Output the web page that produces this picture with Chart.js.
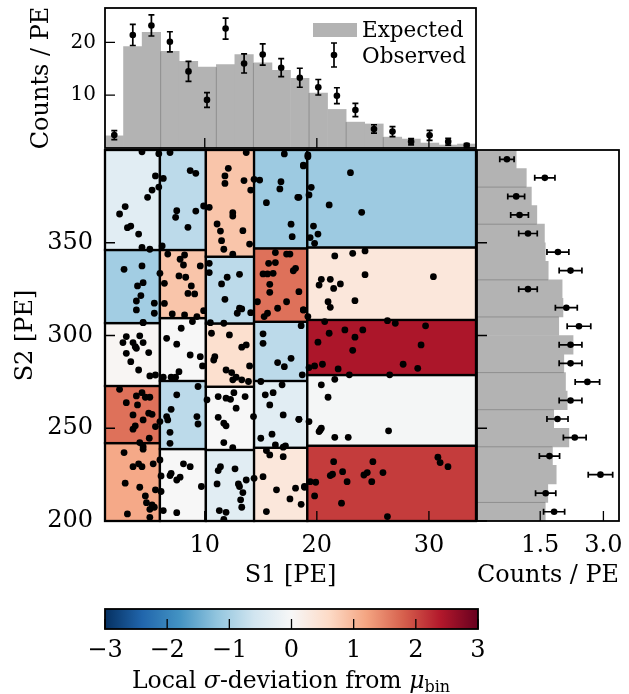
<!DOCTYPE html>
<html>
<head>
<meta charset="utf-8">
<script src="https://cdn.jsdelivr.net/npm/chart.js@4.4.1/dist/chart.umd.min.js"></script>
<style>
  body { margin: 0; background: #fff; }
  #wrap { position: relative; width: 629px; height: 694px; overflow: hidden; }
  canvas { position: absolute; }
  #cbTitle { position: absolute; left: 0; width: 582px; top: 666px; text-align: center;
             font: 23.5px "DejaVu Serif", serif; color: #000; white-space: nowrap; }
  #cbTitle sub { font-size: 16px; vertical-align: -4px; }
</style>
</head>
<body>
<div id="wrap">
  <canvas id="topHist" width="480" height="152" style="left:0;top:0"></canvas>
  <canvas id="mainPlot" width="480" height="460" style="left:0;top:140px"></canvas>
  <canvas id="rightHist" width="159" height="460" style="left:470px;top:140px"></canvas>
  <canvas id="colorBar" width="500" height="75" style="left:0;top:595px"></canvas>
  <div id="cbTitle">Local <i>σ</i>-deviation from <i>μ</i><sub>bin</sub></div>
</div>
<script>
// top histogram, S1 bins
const s1Centers = [1.93, 3.58, 5.24, 6.89, 8.55, 10.20, 11.86, 13.51, 15.17, 16.82,
                   18.48, 20.13, 21.79, 23.44, 25.10, 26.75, 28.41, 30.06, 31.72, 33.37]
const s1Expected = [2.3, 19.2, 21.9, 18.3, 16.4, 15.3, 15.8, 17.7, 16.1, 14.7,
                    13.2, 10.4, 7.3, 4.9, 4.55, 2.06, 1.69, 0.94, 0.56, 0.75]
const s1Observed = [2.45, 21.4, 23.2, 20.1, 14.5, 9.1, 22.6, 16.0, 17.7, 15.2,
                    13.3, 11.5, 9.9, 7.2, 3.6, 3.1, 1.2, 2.4, 1.2, 0.45]
const s1Errors = [0.85, 2.0, 2.0, 1.9, 1.9, 1.4, 2.0, 1.8, 2.0, 1.7,
                  1.8, 1.47, 1.5, 1.25, 0.8, 0.95, 0.6, 0.94, 0.65, 0.4]
// bins whose left edge shows a thin seam
const s1Seams = [3, 6, 8, 11, 13, 15]

// right histogram, S2 bins (top to bottom)
const s2Centers = [395, 385, 375, 365, 355, 345, 335, 325, 315, 305,
                   295, 285, 275, 265, 255, 245, 235, 225, 215, 205]
const s2Expected = [0.93, 1.17, 1.29, 1.42, 1.60, 1.62, 1.69, 2.02, 2.04, 1.94,
                    2.28, 2.06, 2.10, 2.14, 1.82, 2.18, 1.79, 1.88, 1.68, 1.62]
const s2Observed = [0.71, 1.61, 0.93, 1.01, 1.21, 1.92, 2.22, 1.21, 2.12, 2.42,
                    2.22, 2.22, 2.62, 2.22, 1.91, 2.32, 1.72, 2.93, 1.63, 1.83]
const s2Errors = [0.17, 0.24, 0.20, 0.21, 0.22, 0.26, 0.27, 0.22, 0.26, 0.28,
                  0.27, 0.27, 0.29, 0.27, 0.25, 0.27, 0.24, 0.29, 0.24, 0.25]
const s2Seams = [2, 4, 7, 9, 12, 14, 16, 19]

// tick labels
const s1Ticks = [10, 20, 30]
const s2Ticks = [200, 250, 300, 350]
const topCountTicks = [10, 20]
const rightCountTicks = [1.5, 3.0]
const sigmaTicks = [-3, -2, -1, 0, 1, 2, 3]

// local bins: column edges in S1, row edges in S2 (bottom to top), sigma per cell
const colEdges = [1.1, 6.0, 10.1, 14.4, 19.15, 34.2]
const rowEdges = [
  [200, 242.0, 272.8, 306.7, 346.1, 400],
  [200, 238.8, 275.5, 309.4, 346.1, 400],
  [200, 238.3, 272.4, 306.5, 342.5, 400],
  [200, 239.5, 275.5, 307.4, 347.0, 400],
  [200, 240.6, 278.7, 308.4, 347.5, 400]
]
const cellSigma = [
  [1.15, 1.65, 0.05, -1.05, -0.35],
  [0.0, -0.8, 0.0, 0.85, -0.8],
  [-0.35, 0.0, 0.5, -0.8, 0.85],
  [0.35, -0.35, -0.8, 1.65, -1.1],
  [2.1, -0.05, 2.45, 0.35, -1.1]
]

// observed events
const eventS1 = [
  4.4, 5.9, 5.6, 5.9, 5.3, 4.9, 2.9, 2.4, 3.1, 3.4, 4.1, 4.4, 5.1, 6.2,
  6.9, 6.3, 8.7, 9.2, 7.5, 7.4, 9.2, 8.5, 9.9,
  13.7, 12.1, 11.8, 11.8, 13.5, 14.4, 14.9, 14.1, 10.4, 12.5, 12.5, 11.1, 11.4, 13.4, 11.5, 14.0, 11.7, 12.5,
  17.1, 18.8, 16.8, 16.7, 18.3, 15.5, 17.7, 17.8, 19.2,
  2.8, 4.4, 6.0, 4.5, 4.0, 4.3, 3.9, 5.5, 3.9, 5.5, 4.5,
  6.7, 8.2, 7.8, 8.1, 9.6, 7.7, 8.3, 6.4, 8.8, 8.5, 9.1, 6.4, 9.9, 7.1, 8.2, 9.3,
  10.4, 12.0, 13.1, 11.5, 11.8, 13.1, 13.3, 14.1, 12.9, 11.7, 10.5, 10.4,
  16.3, 17.3, 17.6, 15.7, 16.3, 18.1, 17.9, 15.2, 15.6, 16.1, 15.8, 15.8, 14.7, 17.3, 18.4, 15.6, 15.3, 18.8, 16.5,
  3.0, 2.7, 3.6, 3.8, 4.2, 4.5, 3.9, 3.0, 3.4, 5.0, 4.1, 5.1, 5.6, 4.5,
  2.4, 4.4, 3.9, 4.7, 5.1, 3.0, 4.0, 3.6, 5.0, 5.3, 4.5, 3.8, 3.6, 5.6, 5.05, 4.2, 6.0,
  4.5, 4.5, 2.8, 3.6, 4.1, 4.4, 5.4, 2.9, 4.2, 4.7, 5.6, 4.8, 5.3, 5.5, 5.1, 3.1, 5.1, 6.0, 6.1,
  7.9, 8.9, 6.6, 7.5, 8.7, 9.6, 9.8, 7.7, 6.3, 7.0, 7.4,
  9.4, 7.5, 7.0, 6.6, 6.7, 9.3, 9.4, 6.9, 6.9,
  8.1, 8.7, 7.0, 6.9, 7.8, 7.5, 9.7, 6.1, 7.5, 6.3,
  10.6, 12.2, 13.3, 13.7, 10.9, 10.8, 14.0, 11.9, 12.4, 12.5, 13.3, 13.9, 12.8,
  10.2, 11.2, 11.9, 12.3, 12.6, 13.6, 12.8, 11.2, 11.7, 11.9, 14.35, 11.7, 12.5,
  11.4, 11.2, 12.7, 11.1, 13.0, 13.1, 13.7, 13.4, 13.2, 13.3, 11.3, 11.9, 11.7,
  18.6, 15.2, 15.2, 16.5, 17.1, 17.7, 18.7, 15.0,
  16.9, 15.4, 16.1, 15.8, 17.0, 18.4, 15.0, 16.0, 16.3, 17.0, 17.2,
  15.5, 15.8, 17.0, 15.2, 16.4, 17.6, 18.6, 18.9, 18.1, 15.5, 14.4,
  19.2, 18.8, 23.0, 19.5, 19.3, 21.1, 24.0, 19.7, 20.1, 19.4, 19.8, 18.4,
  21.6, 23.2, 24.3, 24.3, 30.4, 20.4, 20.2, 21.2, 22.1, 21.5, 21.0, 21.2, 23.4, 18.8, 19.2,
  20.7, 26.3, 27.0, 29.7, 21.1, 22.5, 24.1, 23.4, 20.1, 23.2, 29.3, 20.5, 19.8, 19.3, 21.9, 22.9, 26.5, 27.7, 29.0,
  20.4, 21.6, 21.0, 19.3, 20.2, 20.3, 20.4, 21.6, 22.8, 26.4, 18.4,
  21.5, 25.0, 30.8, 31.0, 31.7, 22.3, 21.2, 21.4, 24.2, 24.5, 25.9, 22.7, 24.9, 19.4, 19.9, 19.8, 22.2, 26.3, 18.9
]
const eventS2 = [
  399, 398, 386, 380, 378.4, 374.5, 369.5, 365.5, 358.1, 359, 354.7, 347.5, 346.5, 348.3,
  398.6, 384.7, 388.9, 387.4, 367.3, 363.7, 367.1, 358.3, 369.8,
  398.6, 390.1, 386, 382, 383.5, 384.2, 383.8, 378.4, 369.1, 366.2, 364.4, 360.1, 356.3, 356.5, 351.1, 349.3, 346.5, 343.8,
  397.9, 391.9, 382.9, 379, 374.5, 371.6, 360, 353.3, 396.4,
  335.7, 337.5, 333.5, 328.5, 326.7, 321.5, 318.6, 317.4, 313.8, 312, 306.9,
  343.9, 343.4, 341.1, 338, 337.5, 332.1, 331.4, 328.1, 326.7, 322.7, 322.4, 317.3, 313.4, 311.6, 311.1, 310.2,
  338.9, 331.4, 333, 327.8, 319.5, 314.7, 314.3, 312.3, 312, 306.6, 306.9, 333.9,
  344.7, 343.9, 343.9, 338.9, 339.3, 336.2, 334.9, 333.2, 333.2, 333.5, 327.6, 323.3, 318.2, 318.2, 323.6, 312, 310.2, 313.8, 314.7,
  299.4, 296.2, 296.2, 294, 299.8, 296.2, 293.1, 290.4, 285.9, 290.8, 281.4, 278.2, 278.7, 307,
  271, 269.2, 267.4, 266.7, 266.7, 263.8, 262.6, 257.2, 258.1, 257.5, 254.5, 251.3, 249.5, 250.9, 244.6, 242.3, 253.6,
  240.1, 238.7, 236.9, 229.3, 230.8, 229.3, 230.8, 220.4, 218.2, 213.5, 216.8, 209.9, 208.7, 207.4, 206.3, 203.8, 202, 232.9, 215.9,
  303.9, 307.5, 298.5, 295.3, 289.5, 288.6, 283.6, 280.5, 277.5, 277.5, 277.5,
  272.5, 268, 260.2, 256.3, 254.5, 256.3, 252.3, 247.8, 241.9,
  230.8, 229.3, 225.7, 224.5, 223.6, 222.1, 218.6, 224.3, 204.5, 205.6,
  301.2, 300.3, 293.7, 294.9, 288.6, 286.8, 283.6, 281.4, 280, 276.1, 276.1, 275.2, 277.5,
  265.3, 267.1, 266.2, 265.6, 269.2, 267.1, 260.8, 255.9, 252.7, 251.3, 256.3, 242.3, 239.6,
  229.3, 227.2, 228.1, 220, 220, 218.6, 222.1, 215.3, 211.4, 207.4, 205.6, 204.7, 200.9,
  305.3, 300.9, 295.8, 285.4, 283.2, 287.7, 278.8, 275.2,
  273.4, 268, 269.2, 262.6, 257.2, 254.8, 244.6, 246.8, 241, 239.8, 240.5,
  238, 235.6, 234.7, 223.9, 216.8, 211.9, 209, 218.6, 217.7, 205.1, 223,
  397.3, 391.4, 387.8, 379.9, 375.8, 370.4, 366.4, 359, 354.7, 352.8, 349.7, 374.5,
  342.9, 344.3, 345.6, 332.8, 331.7, 330.3, 327.2, 330.3, 327.8, 325.4, 318.2, 315.2, 318.8, 313.8, 310.2,
  307.5, 308, 306.6, 305.2, 301.2, 303, 303, 299.1, 296.4, 292, 294.9, 284.5, 283.6, 282.7, 282, 278.8, 278.8, 284.5, 282.3,
  273.4, 276.4, 266.7, 253.6, 248.2, 249.1, 250, 245.1, 245.1, 248.6, 254.8,
  232, 232, 234.4, 231.5, 229.3, 226.6, 224.5, 225.2, 224.8, 226.1, 226.1, 221.2, 221.2, 221.2, 220.9, 213.5, 209.6, 202.4, 218.2
]

Chart.defaults.font.family = '"DejaVu Serif", serif'
Chart.defaults.font.size = 24
Chart.defaults.color = '#000'
Chart.defaults.animation = false

// RdBu_r colour map
const rdbuR = ['#053061', '#2166ac', '#4393c3', '#92c5de', '#d1e5f0', '#f7f7f7',
               '#fddbc7', '#f4a582', '#d6604d', '#b2182b', '#67001f']
function hexRgb(h) {
  return [1, 3, 5].map(i => parseInt(h.slice(i, i + 2), 16))
}
function sigmaColor(s) {
  const t = Math.min(Math.max((s + 3) / 6, 0), 1) * 10
  const i = Math.min(Math.floor(t), 9)
  const f = t - i
  const a = hexRgb(rdbuR[i]), b = hexRgb(rdbuR[i + 1])
  const c = a.map((v, k) => Math.round(v + (b[k] - v) * f))
  return `rgb(${c[0]},${c[1]},${c[2]})`
}

const fixedTicks = list => scale => { scale.ticks = list.map(v => ({ value: v })) }
// pin an axis box to a size and drop the label overhang padding
const fitWidth = w => s => { s.width = w; s.paddingTop = 0; s.paddingBottom = 0 }
const fitHeight = h => s => { s.height = h; s.paddingLeft = 0; s.paddingRight = 0 }

// box around the plot area with inward ticks
function framePlugin(xTicks, yTicks) {
  return {
    id: 'frame',
    afterDraw(chart) {
      const { ctx, chartArea: a, scales } = chart
      ctx.save()
      ctx.strokeStyle = '#000'
      ctx.lineWidth = 1.3
      ctx.beginPath()
      xTicks.forEach(v => {
        const px = scales.x.getPixelForValue(v)
        ctx.moveTo(px, a.bottom)
        ctx.lineTo(px, a.bottom - 10)
      })
      yTicks.forEach(v => {
        const py = scales.y.getPixelForValue(v)
        ctx.moveTo(a.left, py)
        ctx.lineTo(a.left + 10, py)
      })
      ctx.stroke()
      ctx.lineWidth = 1.8
      ctx.strokeRect(a.left, a.top, a.right - a.left, a.bottom - a.top)
      ctx.restore()
    }
  }
}

// thin seams between some neighbouring histogram bars
function seamPlugin(seams) {
  return {
    id: 'seams',
    afterDatasetsDraw(chart) {
      const bars = chart.getDatasetMeta(0).data
      const horizontal = chart.options.indexAxis === 'y'
      const ctx = chart.ctx
      ctx.save()
      ctx.strokeStyle = '#8f8f8f'
      ctx.lineWidth = 1
      ctx.beginPath()
      seams.forEach(k => {
        const a = bars[k - 1], b = bars[k]
        if (horizontal) {
          const edge = (a.y + a.height / 2 + b.y - b.height / 2) / 2
          ctx.moveTo(a.base, edge)
          ctx.lineTo(Math.min(a.x, b.x), edge)
        } else {
          const edge = (a.x + a.width / 2 + b.x - b.width / 2) / 2
          ctx.moveTo(edge, a.base)
          ctx.lineTo(edge, Math.max(a.y, b.y))
        }
      })
      ctx.stroke()
      ctx.restore()
    }
  }
}

function drawErrorBar(ctx, x1, y1, x2, y2, vertical) {
  ctx.beginPath()
  ctx.moveTo(x1, y1)
  ctx.lineTo(x2, y2)
  if (vertical) {
    ctx.moveTo(x1 - 3, y1); ctx.lineTo(x1 + 3, y1)
    ctx.moveTo(x2 - 3, y2); ctx.lineTo(x2 + 3, y2)
  } else {
    ctx.moveTo(x1, y1 - 3); ctx.lineTo(x1, y1 + 3)
    ctx.moveTo(x2, y2 - 3); ctx.lineTo(x2, y2 + 3)
  }
  ctx.stroke()
}

const topErrors = {
  id: 'topErrors',
  afterDatasetsDraw(chart) {
    const { ctx, scales: { x, y } } = chart
    ctx.save()
    ctx.strokeStyle = '#000'
    ctx.lineWidth = 1.7
    s1Centers.forEach((c, i) => {
      const px = x.getPixelForValue(c)
      drawErrorBar(ctx, px, y.getPixelForValue(s1Observed[i] - s1Errors[i]),
                   px, y.getPixelForValue(s1Observed[i] + s1Errors[i]), true)
    })
    ctx.restore()
  }
}

const topLegend = {
  id: 'topLegend',
  afterDraw(chart) {
    const ctx = chart.ctx
    ctx.save()
    ctx.fillStyle = '#b3b3b3'
    ctx.fillRect(313, 23, 44, 14)
    ctx.strokeStyle = '#000'
    ctx.fillStyle = '#000'
    ctx.lineWidth = 1.7
    drawErrorBar(ctx, 334, 43, 334, 67, true)
    ctx.beginPath()
    ctx.arc(334, 55, 3.3, 0, Math.PI * 2)
    ctx.fill()
    ctx.font = '21.5px "DejaVu Serif", serif'
    ctx.textBaseline = 'alphabetic'
    ctx.fillText('Expected', 362, 37)
    ctx.fillText('Observed', 362, 63)
    ctx.restore()
  }
}

new Chart(document.getElementById('topHist'), {
  type: 'bar',
  data: {
    datasets: [{
      type: 'bar',
      order: 2,
      data: s1Centers.map((c, i) => ({ x: c, y: s1Expected[i] })),
      backgroundColor: '#b3b3b3',
      borderWidth: 0,
      barPercentage: 1,
      categoryPercentage: 1
    }, {
      type: 'scatter',
      order: 1,
      data: s1Centers.map((c, i) => ({ x: c, y: s1Observed[i] })),
      backgroundColor: '#000',
      borderWidth: 0,
      pointRadius: 3.3
    }]
  },
  options: {
    responsive: false,
    layout: { padding: { top: 8, right: 3, bottom: 3 } },
    plugins: { legend: { display: false }, tooltip: { enabled: false } },
    scales: {
      x: { type: 'linear', min: 1.1, max: 34.2, offset: false, display: false },
      y: {
        type: 'linear', min: 0, max: 26.5,
        afterBuildTicks: fixedTicks(topCountTicks),
        afterFit: fitWidth(105),
        ticks: { padding: 9, font: { size: 20 } },
        grid: { display: false, drawTicks: false },
        border: { display: false },
        title: { display: true, text: 'Counts / PE', padding: { top: 27 } }
      }
    }
  },
  plugins: [seamPlugin(s1Seams), topErrors, framePlugin(s1Ticks, topCountTicks), topLegend]
})

const cellsPlugin = {
  id: 'cells',
  beforeDatasetsDraw(chart) {
    const { ctx, scales: { x, y } } = chart
    ctx.save()
    ctx.strokeStyle = '#000'
    ctx.lineWidth = 2.3
    cellSigma.forEach((col, c) => {
      const x0 = x.getPixelForValue(colEdges[c])
      const x1 = x.getPixelForValue(colEdges[c + 1])
      col.forEach((s, r) => {
        const y0 = y.getPixelForValue(rowEdges[c][r])
        const y1 = y.getPixelForValue(rowEdges[c][r + 1])
        ctx.fillStyle = sigmaColor(s)
        ctx.fillRect(x0, y1, x1 - x0, y0 - y1)
        ctx.strokeRect(x0, y1, x1 - x0, y0 - y1)
      })
    })
    ctx.restore()
  }
}

new Chart(document.getElementById('mainPlot'), {
  type: 'scatter',
  data: {
    datasets: [{
      data: eventS1.map((v, i) => ({ x: v, y: eventS2[i] })),
      backgroundColor: '#000',
      borderWidth: 0,
      pointRadius: 3.4
    }]
  },
  options: {
    responsive: false,
    layout: { padding: { top: 10, right: 3 } },
    plugins: { legend: { display: false }, tooltip: { enabled: false } },
    scales: {
      x: {
        type: 'linear', min: 1.1, max: 34.2,
        afterBuildTicks: fixedTicks(s1Ticks),
        afterFit: fitHeight(79),
        ticks: { padding: 10, maxRotation: 0 },
        grid: { display: false, drawTicks: false },
        border: { display: false },
        title: { display: true, text: 'S1 [PE]', padding: { bottom: 10 } }
      },
      y: {
        type: 'linear', min: 200, max: 400,
        afterBuildTicks: fixedTicks(s2Ticks),
        afterFit: fitWidth(105),
        ticks: { padding: 12 },
        grid: { display: false, drawTicks: false },
        border: { display: false },
        title: { display: true, text: 'S2 [PE]', padding: { top: 11 } }
      }
    }
  },
  plugins: [cellsPlugin, framePlugin(s1Ticks, s2Ticks)]
})

const rightErrors = {
  id: 'rightErrors',
  afterDatasetsDraw(chart) {
    const { ctx, scales: { x, y } } = chart
    ctx.save()
    ctx.strokeStyle = '#000'
    ctx.lineWidth = 1.7
    s2Centers.forEach((c, i) => {
      const py = y.getPixelForValue(c)
      drawErrorBar(ctx, x.getPixelForValue(s2Observed[i] - s2Errors[i]), py,
                   x.getPixelForValue(s2Observed[i] + s2Errors[i]), py, false)
    })
    ctx.restore()
  }
}

new Chart(document.getElementById('rightHist'), {
  type: 'bar',
  data: {
    datasets: [{
      type: 'bar',
      order: 2,
      data: s2Centers.map((c, i) => ({ x: s2Expected[i], y: c })),
      backgroundColor: '#b3b3b3',
      borderWidth: 0,
      barPercentage: 1,
      categoryPercentage: 1
    }, {
      type: 'scatter',
      order: 1,
      data: s2Centers.map((c, i) => ({ x: s2Observed[i], y: c })),
      backgroundColor: '#000',
      borderWidth: 0,
      pointRadius: 3.3
    }]
  },
  options: {
    responsive: false,
    indexAxis: 'y',
    layout: { padding: { top: 10, right: 10 } },
    plugins: { legend: { display: false }, tooltip: { enabled: false } },
    scales: {
      x: {
        type: 'linear', min: 0, max: 3.37,
        afterBuildTicks: fixedTicks(rightCountTicks),
        afterFit: fitHeight(79),
        ticks: { padding: 10, maxRotation: 0, callback: v => v.toFixed(1) },
        grid: { display: false, drawTicks: false },
        border: { display: false },
        title: { display: true, text: 'Counts / PE', padding: { bottom: 10 } }
      },
      y: {
        type: 'linear', min: 200, max: 400, offset: false,
        afterFit: fitWidth(7),
        ticks: { display: false },
        grid: { display: false, drawTicks: false },
        border: { display: false }
      }
    }
  },
  plugins: [seamPlugin(s2Seams), rightErrors, framePlugin(rightCountTicks, s2Ticks)]
})

const gradientPlugin = {
  id: 'gradient',
  beforeDatasetsDraw(chart) {
    const { ctx, chartArea: a } = chart
    const g = ctx.createLinearGradient(a.left, 0, a.right, 0)
    rdbuR.forEach((c, i) => g.addColorStop(i / (rdbuR.length - 1), c))
    ctx.save()
    ctx.fillStyle = g
    ctx.fillRect(a.left, a.top, a.right - a.left, a.bottom - a.top)
    ctx.restore()
  }
}

new Chart(document.getElementById('colorBar'), {
  type: 'scatter',
  data: { datasets: [{ data: [] }] },
  options: {
    responsive: false,
    layout: { padding: { top: 14, right: 22 } },
    plugins: { legend: { display: false }, tooltip: { enabled: false } },
    scales: {
      x: {
        type: 'linear', min: -3, max: 3,
        afterBuildTicks: fixedTicks(sigmaTicks),
        afterFit: fitHeight(41),
        ticks: { padding: 7, maxRotation: 0, callback: v => v < 0 ? '\u2212' + Math.abs(v) : String(v) },
        grid: { display: false, drawTicks: false },
        border: { display: false }
      },
      y: {
        type: 'linear', min: 0, max: 1,
        afterFit: fitWidth(105),
        ticks: { display: false },
        grid: { display: false, drawTicks: false },
        border: { display: false }
      }
    }
  },
  plugins: [gradientPlugin, framePlugin(sigmaTicks, [])]
})
</script>
</body>
</html>
